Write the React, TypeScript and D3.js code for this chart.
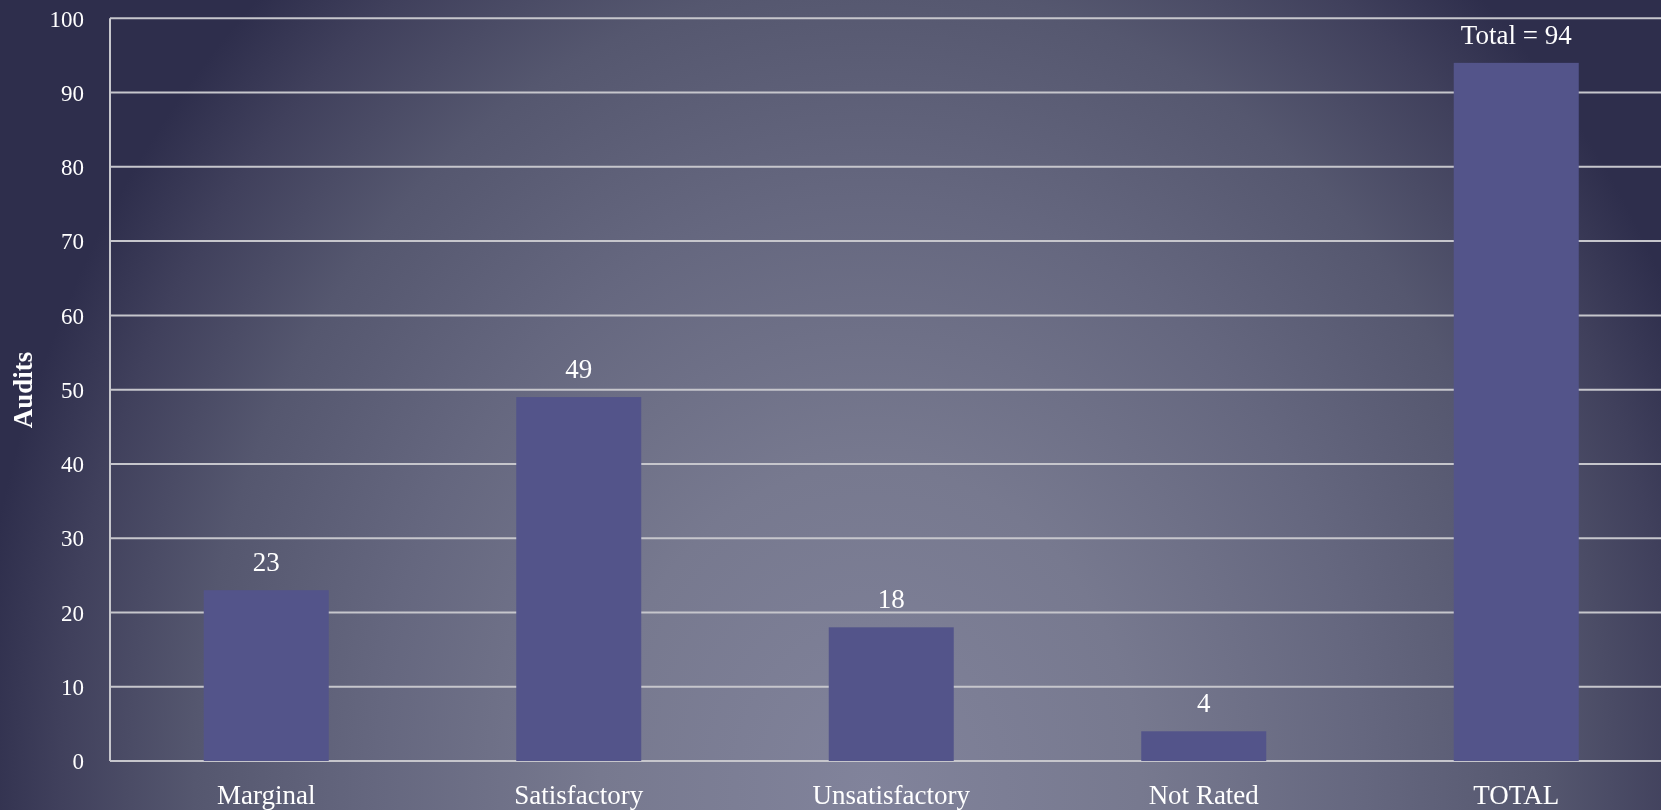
import React from "react";
import * as d3 from "d3";

const categories = ["Marginal", "Satisfactory", "Unsatisfactory", "Not Rated", "TOTAL"];
const values = [23, 49, 18, 4, 94];
const valueLabels = ["23", "49", "18", "4", "Total = 94"];
const yTicks = [0, 10, 20, 30, 40, 50, 60, 70, 80, 90, 100];
const yAxisTitle = "Audits";

const W = 1661;
const H = 810;
const FONT = "'Liberation Serif', 'DejaVu Serif', serif";

export default function App() {
  const left = 110;
  const top = 18.3;
  const bottom = 761;
  const x = d3
    .scaleBand<string>()
    .domain(categories)
    .range([left, left + 5 * 312.5])
    .paddingInner(0.6)
    .paddingOuter(0.3);
  const y = d3.scaleLinear().domain([0, 100]).range([bottom, top]);

  return (
    <svg
      width={W}
      height={H}
      style={{ position: "fixed", left: 0, top: 0, display: "block" }}
      fontFamily={FONT}
    >
      <defs>
        <radialGradient
          id="bg"
          gradientUnits="userSpaceOnUse"
          cx={870}
          cy={790}
          r={900}
          gradientTransform="translate(870 790) scale(1 1.2) translate(-870 -790)"
        >
          <stop offset="0" stopColor="#81839b" />
          <stop offset="0.3" stopColor="#77798f" />
          <stop offset="0.55" stopColor="#65677f" />
          <stop offset="0.75" stopColor="#55576f" />
          <stop offset="0.9" stopColor="#40405c" />
          <stop offset="1" stopColor="#2e2e4c" />
        </radialGradient>
      </defs>
      <rect x={0} y={0} width={W} height={H} fill="url(#bg)" />

      {/* gridlines */}
      {yTicks.map((t) => (
        <line
          key={"g" + t}
          x1={left}
          x2={W}
          y1={y(t)}
          y2={y(t)}
          stroke="#c6c6cc"
          strokeWidth={2}
        />
      ))}
      {/* y axis line */}
      <line x1={left} x2={left} y1={y(100)} y2={y(0)} stroke="#c6c6cc" strokeWidth={2} />

      {/* tick labels */}
      {yTicks.map((t) => (
        <text
          key={"t" + t}
          x={84}
          y={y(t)}
          dy="0.36em"
          textAnchor="end"
          fill="#ffffff"
          fontSize={23}
        >
          {t}
        </text>
      ))}

      {/* axis title */}
      <text
        transform={`translate(32, 390) rotate(-90)`}
        textAnchor="middle"
        fill="#ffffff"
        fontSize={27}
        fontWeight="bold"
      >
        {yAxisTitle}
      </text>

      {/* bars */}
      {categories.map((c, i) => (
        <rect
          key={"b" + c}
          x={x(c)}
          y={y(values[i])}
          width={x.bandwidth()}
          height={y(0) - y(values[i])}
          fill="#53548a"
        />
      ))}

      {/* value labels */}
      {categories.map((c, i) => (
        <text
          key={"v" + c}
          x={(x(c) as number) + x.bandwidth() / 2}
          y={y(values[i]) - 19}
          textAnchor="middle"
          fill="#ffffff"
          fontSize={27}
        >
          {valueLabels[i]}
        </text>
      ))}

      {/* category labels */}
      {categories.map((c) => (
        <text
          key={"c" + c}
          x={(x(c) as number) + x.bandwidth() / 2}
          y={804}
          textAnchor="middle"
          fill="#ffffff"
          fontSize={27}
        >
          {c}
        </text>
      ))}
    </svg>
  );
}
